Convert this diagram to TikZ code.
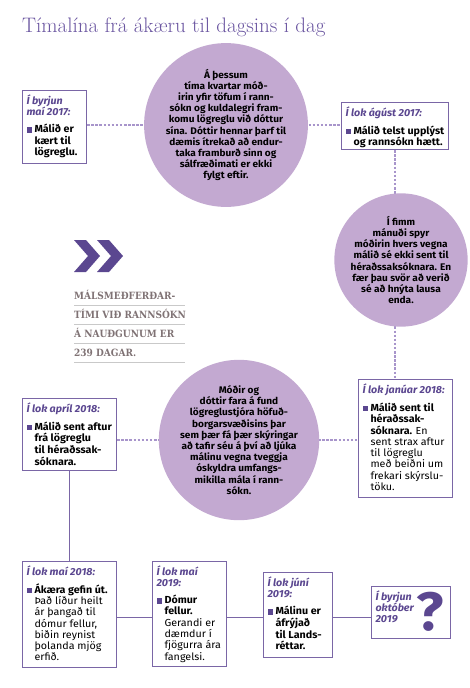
\documentclass[tikz,border=0pt]{standalone}
\usepackage{fontspec}
\newfontfamily\boxfont[FakeStretch=1.05]{Fira Sans}
\newfontfamily\circfont[FakeStretch=1.05]{Fira Sans}
\newfontfamily\slabfont[FakeStretch=0.9]{DejaVu Serif}
\usetikzlibrary{positioning, backgrounds, calc}
\definecolor{tlpurple}{HTML}{5B4790}
\definecolor{tlline}{HTML}{7A66A6}
\definecolor{tldash}{HTML}{A895CB}
\definecolor{tlcircle}{HTML}{C3A9D1}
\definecolor{tlgray}{HTML}{7F7274}
\definecolor{tlrule}{HTML}{C9C9C9}
\definecolor{tltitle}{HTML}{6A55A0}

% bullet and card text
\newcommand{\tlbul}{\makebox[8pt][l]{\color{tlpurple}\rule{5.5pt}{5.5pt}}}
\newcommand{\tllight}{\mdseries}
\newcommand{\tlcard}[4]{\parbox[c][#2][t]{#1}{\raggedright
  {\color{tlpurple}\bfseries\itshape #3\par}\vspace{7pt}%
  \bfseries\tlbul\begin{tabular}[t]{@{}l@{}}#4\end{tabular}}}

\begin{document}
\begin{tikzpicture}[x=1pt, y=-1pt,
    tlbox/.style={draw=tlline, line width=1.1pt, inner sep=4pt, anchor=north west,
                  font=\boxfont\fontsize{10.2}{10.8}\selectfont},
    tlcirc/.style={circle, fill=tlcircle, inner sep=0pt, minimum size=#1, align=center,
                   font=\circfont\bfseries\fontsize{9.6}{11.2}\selectfont},
    tldashed/.style={tldash, line width=1.2pt, dash pattern=on 2.5pt off 1.6pt},
    tlsolid/.style={tlline, line width=1pt},
    graytxt/.style={anchor=base west, inner sep=0pt, text=tlgray,
                    font=\slabfont\bfseries\fontsize{10}{11}\selectfont}]
  \useasboundingbox (0,0) rectangle (469,688);

  \node[anchor=base west, inner sep=0pt, text=tltitle, font=\fontsize{21}{24}\selectfont]
    (title) at (22,32) {Tímalína frá ákæru til dagsins í dag};

  % cards
  \node[tlbox] (boxA) at (22,90) {\tlcard{56pt}{65pt}{Í byrjun\\ maí 2017:}{Málið er\\ kært til\\ lögreglu.}};
  \node[tlbox] (boxB) at (341,102) {\tlcard{99pt}{39pt}{Í lok ágúst 2017:}{Málið telst upplýst\\ og rannsókn hætt.}};
  \node[tlbox] (boxC) at (358,379) {\tlcard{86pt}{110pt}{Í lok janúar 2018:}{Málið sent til\\ héraðssak-\\ sóknara. \tllight En\\ \tllight sent strax aftur\\ \tllight til lögreglu\\ \tllight með beiðni um\\ \tllight frekari skýrslu-\\ \tllight töku.}};
  \node[tlbox] (boxD) at (22,398) {\tlcard{86pt}{64pt}{Í lok apríl 2018:}{Málið sent aftur\\ frá lögreglu\\ til héraðssak-\\ sóknara.}};
  \node[tlbox] (boxE) at (22,561) {\tlcard{86pt}{98pt}{Í lok maí 2018:}{Ákæra gefin út.\\ \tllight Það líður heilt\\ \tllight ár þangað til\\ \tllight dómur fellur,\\ \tllight biðin reynist\\ \tllight þolanda mjög\\ \tllight erfið.}};
  \node[tlbox] (boxF) at (152,561) {\tlcard{66pt}{97pt}{Í lok maí\\ 2019:}{Dómur\\ fellur.\\ \tllight Gerandi er\\ \tllight dæmdur í\\ \tllight fjögurra ára\\ \tllight fangelsi.}};
  \node[tlbox] (boxG) at (263,572) {\tlcard{61pt}{77pt}{Í lok júní\\ 2019:}{Málinu er\\ áfrýjað\\ til Lands-\\ réttar.}};
  \node[tlbox, font=\boxfont\fontsize{10.2}{11}\selectfont] (boxH) at (371,586)
    {\parbox[c][44pt][t]{71pt}{\color{tlpurple}\bfseries\itshape Í byrjun\\ október\\ 2019}};
  \node[text=tlpurple, font=\boxfont\bfseries\fontsize{54}{54}\selectfont, inner sep=0pt]
    (qmark) at (430,612) {?};

  % circles
  \node[tlcirc=140pt] (circA) at (226,125) {Á þessum\\ tíma kvartar móð-\\ irin yfir töfum í rann-\\ sókn og kuldalegri fram-\\ komu lögreglu við dóttur\\ sína. Dóttir hennar þarf til\\ dæmis ítrekað að endur-\\ taka framburð sinn og\\ sálfræðimati er ekki\\ fylgt eftir.};
  \node[tlcirc=122pt] (circB) at (401,260) {Í fimm\\ mánuði spyr\\ móðirin hvers vegna\\ málið sé ekki sent til\\ héraðssaksóknara. En\\ fær þau svör að verið\\ sé að hnýta lausa\\ enda.};
  \node[tlcirc=140pt] (circC) at (239,440) {Móðir og\\ dóttir fara á fund\\ lögreglustjóra höfuð-\\ borgarsvæðisins þar\\ sem þær fá þær skýringar\\ að tafir séu á því að ljúka\\ málinu vegna tveggja\\ óskyldra umfangs-\\ mikilla mála í rann-\\ sókn.};

  % chevrons and the note
  \fill[tlpurple] (74,240) -- (86,240) -- (100,256) -- (86,272) -- (74,272) -- (88,256) -- cycle;
  \fill[tlpurple] (97,240) -- (109,240) -- (123,256) -- (109,272) -- (97,272) -- (111,256) -- cycle;
  \node[graytxt] (note1) at (74,299) {MÁLSMEÐFERÐAR-};
  \node[graytxt] (note2) at (74,318) {TÍMI VIÐ RANNSÓKN};
  \node[graytxt] (note3) at (74,337) {Á NAUÐGUNUM ER};
  \node[graytxt] (note4) at (74,356) {239 DAGAR.};
  \foreach \y in {305,324,343,362}
    \draw[tlrule, line width=0.8pt] (74,\y) -- (185,\y);

  % connectors
  \coordinate (row) at (0,617);
  \begin{scope}[on background layer]
    \draw[tldashed] (boxA.east |- circA.center) -- (boxB.west |- circA.center);
    \draw[tldashed] (boxB.south) -- (boxB.south |- boxC.north);
    \draw[tldashed] (boxD.east |- circC.center) -- (boxC.west |- circC.center);
  \end{scope}
  \draw[tlsolid] (boxD.south) -- (boxD.south |- boxE.north);
  \draw[tlsolid] (boxE.east |- row) -- (boxF.west |- row);
  \draw[tlsolid] (boxF.east |- row) -- (boxG.west |- row);
  \draw[tlsolid] (boxG.east |- row) -- (boxH.west |- row);
\end{tikzpicture}
\end{document}
